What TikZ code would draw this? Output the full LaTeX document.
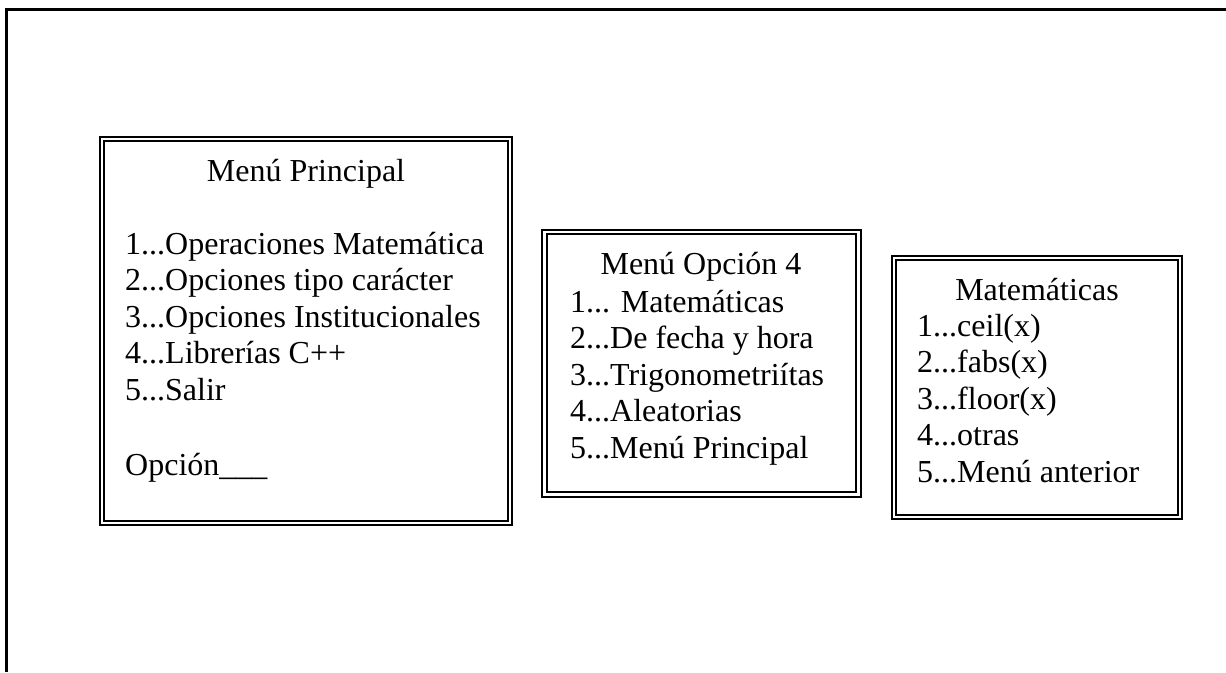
\documentclass[tikz,border=0pt]{standalone}
\usepackage{fontspec}
\setmainfont{Liberation Serif}
\begin{document}
\begin{tikzpicture}[x=1pt,y=-1pt,
  menubox/.style={draw, line width=2pt, double, double distance=2.6pt},
  frame/.style={draw, line width=2.8pt},
  txt/.style={inner sep=0pt, anchor=base west, font=\fontsize{32}{36.5}\selectfont},
  ttl/.style={inner sep=0pt, anchor=base, font=\fontsize{32}{36.5}\selectfont}]
\useasboundingbox (0,0) rectangle (1226,672);
% outer frame (cropped at right and bottom)
\draw[frame] (6.5,672) -- (6.5,9.5) -- (1226,9.5);
% boxes
\draw[menubox] (102,139) rectangle (510,523);
\draw[menubox] (544.5,232) rectangle (858.5,494.5);
\draw[menubox] (894,258) rectangle (1180,517);
% box 1
\node[ttl] (t1) at (306,181) {Menú Principal};
\node[txt] (a1) at (125,254) {1...Operaciones Matemática};
\node[txt] (a2) at (125,290.5) {2...Opciones tipo carácter};
\node[txt] (a3) at (125,327) {3...Opciones Institucionales};
\node[txt] (a4) at (125,363.5) {4...Librerías C++};
\node[txt] (a5) at (125,400) {5...Salir};
\node[txt] (a6) at (125,475) {Opción\_\_\_};
% box 2
\node[ttl] (t2) at (701,274) {Menú Opción 4};
\node[txt] (b1) at (570,312) {1... Matemáticas};
\node[txt] (b2) at (570,348.5) {2...De fecha y hora};
\node[txt] (b3) at (570,385) {3...Trigonometriítas};
\node[txt] (b4) at (570,421.5) {4...Aleatorias};
\node[txt] (b5) at (570,458) {5...Menú Principal};
% box 3
\node[ttl] (t3) at (1037,300) {Matemáticas};
\node[txt] (c1) at (917,336) {1...ceil(x)};
\node[txt] (c2) at (917,372.5) {2...fabs(x)};
\node[txt] (c3) at (917,409) {3...floor(x)};
\node[txt] (c4) at (917,445.5) {4...otras};
\node[txt] (c5) at (917,482) {5...Menú anterior};
\end{tikzpicture}
\end{document}
